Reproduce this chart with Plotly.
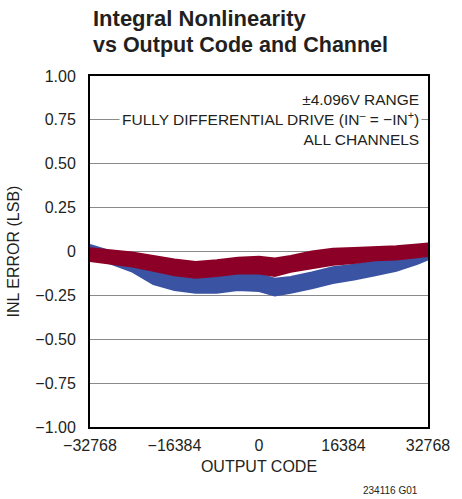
import plotly.graph_objects as go

# --- Data
codes = [-32768, -28672, -24576, -20480, -16384, -12288, -8192, -4096, 0,
         3072, 6144, 10240, 14336, 18432, 22528, 26624, 30720, 32768]

blue_upper = [0.037, 0.0, -0.045, -0.09, -0.13, -0.15, -0.145, -0.125, -0.13,
              -0.155, -0.145, -0.12, -0.09, -0.075, -0.055, -0.035, -0.015, 0.02]
blue_lower = [-0.02, -0.07, -0.115, -0.185, -0.22, -0.235, -0.235, -0.22, -0.225,
              -0.25, -0.235, -0.21, -0.18, -0.16, -0.135, -0.11, -0.07, -0.045]

red_upper = [0.018, 0.005, -0.005, -0.025, -0.045, -0.06, -0.05, -0.035, -0.03,
             -0.04, -0.025, 0.0, 0.015, 0.02, 0.025, 0.03, 0.04, 0.045]
red_lower = [-0.054, -0.07, -0.085, -0.11, -0.135, -0.15, -0.14, -0.125, -0.125,
             -0.14, -0.115, -0.095, -0.075, -0.065, -0.05, -0.045, -0.03, -0.025]

x_ticks = [-32768, -16384, 0, 16384, 32768]
x_ticktext = ["\u221232768", "\u221216384", "0", "16384", "32768"]
y_ticks = [-1.0, -0.75, -0.5, -0.25, 0, 0.25, 0.5, 0.75, 1.0]
y_ticktext = ["\u22121.00", "\u22120.75", "\u22120.50", "\u22120.25", "0",
              "0.25", "0.50", "0.75", "1.00"]

FONT = "Liberation Sans, Arial, Helvetica, sans-serif"
INK = "#231f20"
BLUE = "#3b53a3"
RED = "#8c0028"

fig = go.Figure()

# bands: upper edge then lower edge filled to it
for up, lo, col in [(blue_upper, blue_lower, BLUE), (red_upper, red_lower, RED)]:
    fig.add_trace(go.Scatter(x=codes, y=up, mode="lines",
                             line=dict(color=col, width=2), hoverinfo="skip"))
    fig.add_trace(go.Scatter(x=codes, y=lo, mode="lines", fill="tonexty",
                             fillcolor=col, line=dict(color=col, width=2),
                             hoverinfo="skip"))

fig.update_layout(
    width=462, height=499, autosize=False,
    margin=dict(l=87, r=23, t=76, b=72),
    paper_bgcolor="white", plot_bgcolor="white",
    showlegend=False,
    font=dict(family=FONT, size=16, color=INK),
)

fig.update_xaxes(
    range=[-32768, 32768], tickvals=x_ticks, ticktext=x_ticktext,
    showgrid=False, zeroline=False, showline=True, linecolor="black",
    linewidth=2, mirror=True, ticks="", ticklabelstandoff=3,
    title=dict(text="OUTPUT CODE", font=dict(size=16), standoff=8),
)
fig.update_yaxes(
    range=[-1.0, 1.0], tickvals=y_ticks, ticktext=y_ticktext,
    showgrid=True, gridcolor="#8a8a8a", gridwidth=1, zeroline=False,
    showline=True, linecolor="black", linewidth=2, mirror=True,
    ticks="", ticklabelstandoff=9,
    title=dict(text="INL ERROR (LSB)", font=dict(size=16), standoff=12),
)

# title
fig.add_annotation(text="<b>Integral Nonlinearity</b>", xref="paper", yref="paper",
                   x=0, xshift=1, y=1, yshift=72, xanchor="left", yanchor="top",
                   showarrow=False, font=dict(size=22, family=FONT, color=INK))
fig.add_annotation(text="<b>vs Output Code and Channel</b>", xref="paper", yref="paper",
                   x=0, xshift=1, y=1, yshift=45, xanchor="left", yanchor="top",
                   showarrow=False, font=dict(size=21.5, family=FONT, color=INK))

# condition notes
fig.add_annotation(
    text="\u00b14.096V RANGE<br>FULLY DIFFERENTIAL DRIVE (IN<sup>\u2013</sup> = \u2212IN<sup>+</sup>)<br>ALL CHANNELS",
    xref="paper", yref="y", x=1, xshift=-6, y=0.75, xanchor="right", yanchor="middle",
    align="right", showarrow=False, bgcolor="white", borderpad=2,
    font=dict(size=15.5, family=FONT, color=INK))

# part number
fig.add_annotation(text="234116 G01", xref="paper", yref="paper", x=1, xshift=-8,
                   y=0, yshift=-63, xanchor="right", yanchor="middle",
                   showarrow=False, font=dict(size=10, family=FONT, color=INK))

fig.write_html("out.html", config={"displayModeBar": False, "responsive": False},
               post_script="document.body.style.margin='0px';"
                           "document.body.style.overflow='hidden';"
                           "document.documentElement.style.overflow='hidden';")
